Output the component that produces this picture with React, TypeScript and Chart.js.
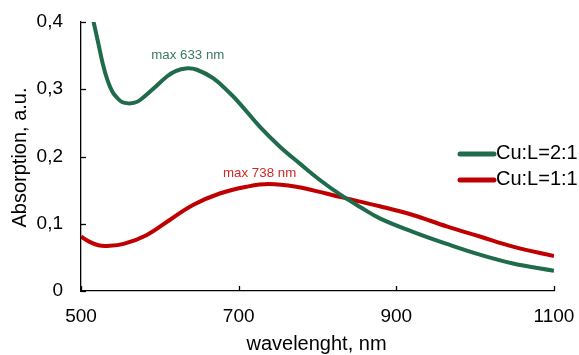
import React, { useEffect, useRef } from 'react';
import { Chart, registerables } from 'chart.js';

Chart.register(...registerables);

// ---- data ----
const wlGreen = [500, 505, 510, 516, 522, 528, 534, 540, 546, 552, 560, 568, 575, 592, 609, 620, 633, 647, 668, 689, 702, 727, 752, 778, 803, 828, 854, 879, 921, 964, 1006, 1048, 1100];
const absGreen = [0.49, 0.46, 0.432, 0.4, 0.368, 0.336, 0.312, 0.296, 0.287, 0.281, 0.279, 0.28, 0.284, 0.301, 0.319, 0.327, 0.331, 0.329, 0.316, 0.294, 0.278, 0.244, 0.215, 0.189, 0.165, 0.144, 0.125, 0.108, 0.088, 0.07, 0.054, 0.041, 0.03];

const wlRed = [500, 511, 522, 533, 554, 583, 613, 642, 676, 710, 738, 773, 811, 828, 879, 921, 964, 1006, 1048, 1100];
const absRed = [0.081, 0.073, 0.068, 0.067, 0.07, 0.083, 0.106, 0.128, 0.145, 0.155, 0.159, 0.155, 0.145, 0.14, 0.126, 0.113, 0.096, 0.081, 0.066, 0.052];

const seriesNames = ['Cu:L=2:1', 'Cu:L=1:1'];
const seriesColors = ['#1f6b4b', '#c00000'];
const peakWl = [633, 738];
const peakAbs = [0.331, 0.159];
const peakLabels = ['max 633 nm', 'max 738 nm'];
const peakColors = ['#3a7a60', '#d02828'];

const xTicks = [500, 700, 900, 1100];
const yTicks = [0, 0.1, 0.2, 0.3, 0.4];
const xTitle = 'wavelenght, nm';
const yTitle = 'Absorption, a.u.';

const FONT = 'Arial, "Liberation Sans", sans-serif';

const fmtY = (v: number) => (v === 0 ? '0' : v.toFixed(1).replace('.', ','));

const overlayPlugin = {
  id: 'overlay',
  afterDraw(chart: any) {
    const ctx = chart.ctx;
    const xs = chart.scales.x;
    const ys = chart.scales.y;
    const area = chart.chartArea;
    ctx.save();
    // inward tick marks
    ctx.strokeStyle = '#000';
    ctx.lineWidth = 1.3;
    xTicks.forEach((v) => {
      const px = Math.round(xs.getPixelForValue(v)) + 0.5;
      ctx.beginPath();
      ctx.moveTo(px, area.bottom);
      ctx.lineTo(px, area.bottom - 5);
      ctx.stroke();
    });
    yTicks.forEach((v) => {
      const py = Math.round(ys.getPixelForValue(v)) + 0.5;
      ctx.beginPath();
      ctx.moveTo(area.left, py);
      ctx.lineTo(area.left + 5, py);
      ctx.stroke();
    });

    // axis titles
    ctx.fillStyle = '#000';
    ctx.font = `20px ${FONT}`;
    ctx.textAlign = 'center';
    ctx.textBaseline = 'middle';
    ctx.fillText(xTitle, (area.left + area.right) / 2 - 1, 344);
    ctx.save();
    ctx.translate(20, (area.top + area.bottom) / 2 + 1);
    ctx.rotate(-Math.PI / 2);
    ctx.fillText(yTitle, 0, 0);
    ctx.restore();

    // peak annotations
    ctx.font = `13.3px ${FONT}`;
    peakLabels.forEach((t, i) => {
      ctx.fillStyle = peakColors[i];
      const px = xs.getPixelForValue(peakWl[i]) + (i === 0 ? 2 : -9);
      const py = ys.getPixelForValue(peakAbs[i]) - (i === 0 ? 13 : 11);
      ctx.fillText(t, px, py);
    });

    // legend
    ctx.font = `20px ${FONT}`;
    ctx.textAlign = 'left';
    seriesNames.forEach((n, i) => {
      const y = 154 + i * 26;
      ctx.strokeStyle = seriesColors[i];
      ctx.lineWidth = 5;
      ctx.lineCap = 'round';
      ctx.beginPath();
      ctx.moveTo(460, y);
      ctx.lineTo(494, y);
      ctx.stroke();
      ctx.fillStyle = '#000';
      ctx.fillText(n, 496, y - 1);
    });
    ctx.restore();
  },
};

export default function App() {
  const ref = useRef<HTMLCanvasElement | null>(null);
  useEffect(() => {
    if (!ref.current) return;
    const mk = (wl: number[], ab: number[]) => wl.map((w, i) => ({ x: w, y: ab[i] }));
    const chart = new Chart(ref.current, {
      type: 'line',
      data: {
        datasets: [
          {
            label: seriesNames[0],
            data: mk(wlGreen, absGreen),
            borderColor: seriesColors[0],
            borderWidth: 4,
            pointRadius: 0,
            tension: 0.4,
            fill: false,
          },
          {
            label: seriesNames[1],
            data: mk(wlRed, absRed),
            borderColor: seriesColors[1],
            borderWidth: 4,
            pointRadius: 0,
            tension: 0.4,
            fill: false,
          },
        ],
      },
      options: {
        responsive: false,
        animation: false,
        layout: { padding: { left: 0, right: 25, top: 22, bottom: 0 } },
        plugins: { legend: { display: false }, tooltip: { enabled: false } },
        scales: {
          x: {
            type: 'linear',
            min: 500,
            max: 1100,
            afterFit: (s: any) => { s.height = 64; s.paddingLeft = 0; s.paddingRight = 0; },
            afterBuildTicks: (s: any) => { s.ticks = xTicks.map((v) => ({ value: v })); },
            grid: { display: false, drawTicks: false },
            border: { display: true, color: '#000', width: 1.3 },
            ticks: {
              padding: 14,
              color: '#000',
              font: { family: FONT, size: 19 },
              callback: (v: any) => String(v),
            },
          },
          y: {
            type: 'linear',
            min: 0,
            max: 0.4,
            afterFit: (s: any) => { s.width = 81; s.paddingTop = 0; s.paddingBottom = 0; },
            afterBuildTicks: (s: any) => { s.ticks = yTicks.map((v) => ({ value: v })); },
            grid: { display: false, drawTicks: false },
            border: { display: true, color: '#000', width: 1.3 },
            ticks: {
              padding: 18,
              color: '#000',
              font: { family: FONT, size: 19 },
              callback: (v: any) => fmtY(Number(v)),
            },
          },
        },
      },
      plugins: [overlayPlugin],
    } as any);
    return () => chart.destroy();
  }, []);
  return (
    <div style={{ position: 'fixed', left: 0, top: 0, width: 579, height: 355, background: '#fff' }}>
      <canvas ref={ref} width={579} height={355} style={{ display: 'block' }} />
    </div>
  );
}
